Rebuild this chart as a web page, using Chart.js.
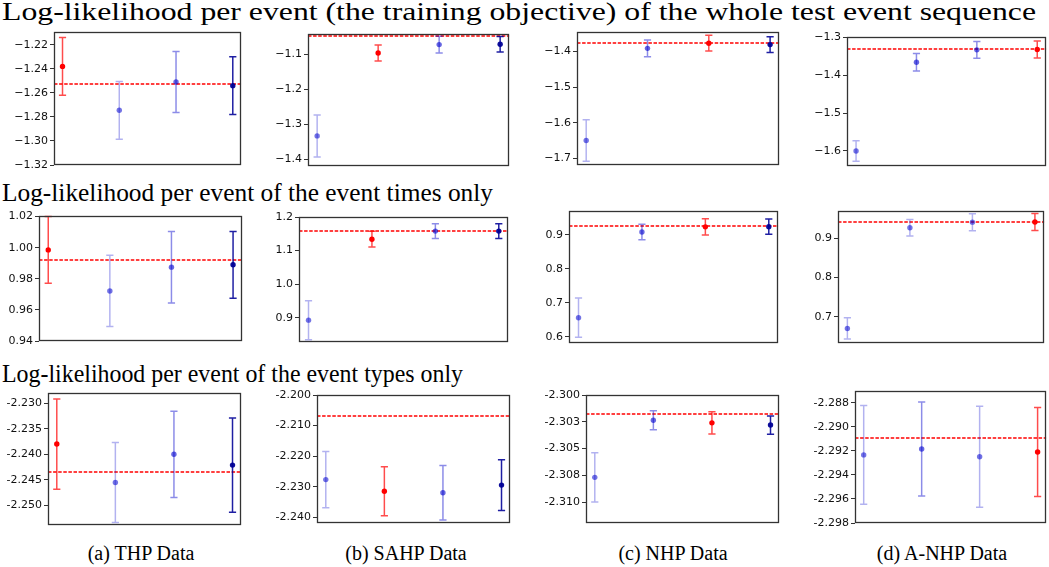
<!DOCTYPE html>
<html><head><meta charset="utf-8">
<script src="https://cdn.jsdelivr.net/npm/chart.js@4.4.1/dist/chart.umd.min.js"></script>
<style>
html,body{margin:0;padding:0;background:#fff;}
#fig{position:relative;width:1049px;height:567px;overflow:hidden;background:#fff;}
canvas.cv{position:absolute;}
.title{position:absolute;left:2px;font-family:"Liberation Serif","DejaVu Serif",serif;color:#000;white-space:nowrap;line-height:1;transform-origin:0 0;}
.cap{position:absolute;font-family:"Liberation Serif","DejaVu Serif",serif;color:#000;white-space:nowrap;line-height:1;transform:translateX(-50%);}
</style></head><body><div id="fig"></div>
<script>
// ---------------- DATA ----------------
const datasetNames = ['(a) THP Data', '(b) SAHP Data', '(c) NHP Data', '(d) A-NHP Data'];
const modelX = [0, 1, 2, 3];
const rowTitles = [
  'Log-likelihood per event (the training objective) of the whole test event sequence',
  'Log-likelihood per event of the event times only',
  'Log-likelihood per event of the event types only'
];

// Row 1: whole sequence
const seqMeans = [
  [-1.238, -1.2745, -1.251, -1.254],
  [-1.334, -1.097, -1.073, -1.072],
  [-1.650, -1.3915, -1.377, -1.381],
  [-1.6005, -1.366, -1.333, -1.332]
];
const seqErrs = [
  [0.024, 0.024, 0.0254, 0.024],
  [0.060, 0.023, 0.024, 0.022],
  [0.058, 0.0235, 0.022, 0.022],
  [0.027, 0.023, 0.022, 0.0225]
];
const seqRef = [-1.2525, -1.0475, -1.3766, -1.331];
const seqTicks = [
  [-1.32, -1.30, -1.28, -1.26, -1.24, -1.22],
  [-1.4, -1.3, -1.2, -1.1],
  [-1.7, -1.6, -1.5, -1.4],
  [-1.6, -1.5, -1.4, -1.3]
];
const seqTickLabels = [
  ['\u22121.32', '\u22121.30', '\u22121.28', '\u22121.26', '\u22121.24', '\u22121.22'],
  ['\u22121.4', '\u22121.3', '\u22121.2', '\u22121.1'],
  ['\u22121.7', '\u22121.6', '\u22121.5', '\u22121.4'],
  ['\u22121.6', '\u22121.5', '\u22121.4', '\u22121.3']
];

// Row 2: event times only
const timeMeans = [
  [0.9986, 0.9722, 0.9875, 0.989],
  [0.893, 1.134, 1.158, 1.158],
  [0.656, 0.909, 0.924, 0.9245],
  [0.670, 0.927, 0.9413, 0.9417]
];
const timeErrs = [
  [0.0214, 0.0229, 0.023, 0.0215],
  [0.058, 0.0235, 0.022, 0.022],
  [0.058, 0.0227, 0.024, 0.0225],
  [0.027, 0.0213, 0.0217, 0.022]
];
const timeRef = [0.9919, 1.1588, 0.9256, 0.9426];
const timeTicks = [
  [0.94, 0.96, 0.98, 1.00, 1.02],
  [0.9, 1.0, 1.1, 1.2],
  [0.6, 0.7, 0.8, 0.9],
  [0.7, 0.8, 0.9]
];
const timeTickLabels = [
  ['0.94', '0.96', '0.98', '1.00', '1.02'],
  ['0.9', '1.0', '1.1', '1.2'],
  ['0.6', '0.7', '0.8', '0.9'],
  ['0.7', '0.8', '0.9']
];

// Row 3: event types only
const typeMeans = [
  [-2.238, -2.2455, -2.240, -2.2421],
  [-2.2277, -2.2315, -2.232, -2.2295],
  [-2.30768, -2.30235, -2.3026, -2.3028],
  [-2.29234, -2.29185, -2.2925, -2.2921]
];
const typeErrs = [
  [0.0088, 0.0078, 0.0084, 0.0092],
  [0.0092, 0.008, 0.0089, 0.0083],
  [0.0023, 0.00088, 0.00104, 0.00085],
  [0.0041, 0.0039, 0.0042, 0.0037]
];
const typeRef = [-2.2434, -2.2069, -2.30176, -2.29093];
const typeTicks = [
  [-2.250, -2.245, -2.240, -2.235, -2.230],
  [-2.240, -2.230, -2.220, -2.210, -2.200],
  [-2.3100, -2.3075, -2.3050, -2.3025, -2.3000],
  [-2.298, -2.296, -2.294, -2.292, -2.290, -2.288]
];
const typeTickLabels = [
  ['-2.250', '-2.245', '-2.240', '-2.235', '-2.230'],
  ['-2.240', '-2.230', '-2.220', '-2.210', '-2.200'],
  ['-2.310', '-2.308', '-2.305', '-2.303', '-2.300'],
  ['-2.298', '-2.296', '-2.294', '-2.292', '-2.290', '-2.288']
];

// ---------------- LAYOUT / STYLE ----------------
const yLimits = [
  [[-1.32, -1.2094], [-1.42, -1.0427], [-1.7187, -1.3456], [-1.64, -1.2991]],
  [[0.94, 1.0204], [0.828, 1.2], [0.5813, 0.9708], [0.6328, 0.9698]],
  [[-2.25378, -2.22805], [-2.2419, -2.2], [-2.31194, -2.3], [-2.298, -2.28703]]
];
// plot boxes: [left, top, right, bottom]
const boxes = [
  [[54, 32, 242, 165], [308, 34, 510, 166], [577, 32, 780, 165], [847, 37, 1047, 166]],
  [[39, 216, 243, 341], [299, 217, 509, 342], [569, 211, 779, 343], [838, 211, 1045, 343]],
  [[48, 393, 242, 525], [317, 395, 511, 523], [586, 395, 780, 523], [855, 391, 1047, 523]]
];
const styleKeys = [
  [['red', 'light', 'mid', 'dark'], ['light', 'red', 'mid', 'dark'], ['light', 'mid', 'red', 'dark'], ['light', 'mid', 'mid', 'red']],
  [['red', 'light', 'mid', 'dark'], ['light', 'red', 'mid', 'dark'], ['light', 'mid', 'red', 'dark'], ['light', 'light', 'light', 'red']],
  [['red', 'light', 'mid', 'dark'], ['light', 'red', 'mid', 'dark'], ['light', 'mid', 'red', 'dark'], ['light', 'mid', 'light', 'red']]
];
const styles = {
  red:   {line: 'rgba(255,0,0,0.7)',  point: 'rgba(255,0,0,1)'},
  light: {line: 'rgba(0,0,205,0.3)',  point: 'rgba(0,0,205,0.55)'},
  mid:   {line: 'rgba(0,0,205,0.45)', point: 'rgba(0,0,205,0.6)'},
  dark:  {line: 'rgba(0,0,150,0.88)', point: 'rgba(0,0,150,0.95)'}
};
const titleBaselines = [20, 201, 382];
const titleSize = 25.4;
const titleWidths = [1034, 491, 461];
const capCenters = [141, 406, 673, 942];
const capBaseline = 560;
const capSize = 20;

// ---------------- DRAW ----------------
const fig = document.getElementById('fig');
const meas = document.createElement('canvas').getContext('2d');

rowTitles.forEach((t, r) => {
  meas.font = titleSize + 'px "Liberation Serif"';
  const w = meas.measureText(t).width;
  const d = document.createElement('div');
  d.className = 'title';
  d.textContent = t;
  d.style.fontSize = titleSize + 'px';
  d.style.top = (titleBaselines[r] - 0.8375 * titleSize) + 'px';
  d.style.transform = 'scaleX(' + (titleWidths[r] / w) + ')';
  fig.appendChild(d);
});
datasetNames.forEach((t, c) => {
  const d = document.createElement('div');
  d.className = 'cap';
  d.textContent = t;
  d.style.fontSize = capSize + 'px';
  d.style.left = capCenters[c] + 'px';
  d.style.top = (capBaseline - 0.8375 * capSize) + 'px';
  fig.appendChild(d);
});

const errPlugin = {
  id: 'errbars',
  beforeDatasetsDraw(chart) {
    const o = chart.options.plugins.errbars;
    const ctx = chart.ctx, xs = chart.scales.x, ys = chart.scales.y, a = chart.chartArea;
    ctx.save();
    ctx.beginPath(); ctx.rect(a.left, a.top - 1, a.right - a.left, a.bottom - a.top + 2); ctx.clip();
    const yr = Math.round(ys.getPixelForValue(o.ref));
    ctx.strokeStyle = 'rgb(255,0,0)';
    ctx.lineWidth = 1.4;
    ctx.setLineDash([3.5, 1.6]);
    ctx.beginPath(); ctx.moveTo(a.left, yr); ctx.lineTo(a.right, yr); ctx.stroke();
    ctx.setLineDash([]);
    o.means.forEach((m, i) => {
      const px = xs.getPixelForValue(modelX[i]);
      const t = ys.getPixelForValue(m + o.errs[i]);
      const b = ys.getPixelForValue(m - o.errs[i]);
      ctx.strokeStyle = o.colors[i];
      ctx.lineWidth = 1.5;
      ctx.beginPath();
      ctx.moveTo(px, t); ctx.lineTo(px, b);
      ctx.moveTo(px - 3.6, t); ctx.lineTo(px + 3.6, t);
      ctx.moveTo(px - 3.6, b); ctx.lineTo(px + 3.6, b);
      ctx.stroke();
    });
    ctx.restore();
  },
  afterDraw(chart) {
    const ctx = chart.ctx, a = chart.chartArea;
    ctx.save();
    ctx.strokeStyle = '#333';
    ctx.lineWidth = 1.3;
    ctx.strokeRect(Math.round(a.left) + 0.5, Math.round(a.top) + 0.5,
      Math.round(a.right - a.left) - 1, Math.round(a.bottom - a.top) - 1);
    ctx.restore();
  }
};

const YW = 58, PAD = 10;
const rows = [
  [seqMeans, seqErrs, seqRef, seqTicks, seqTickLabels],
  [timeMeans, timeErrs, timeRef, timeTicks, timeTickLabels],
  [typeMeans, typeErrs, typeRef, typeTicks, typeTickLabels]
];

rows.forEach((row, r) => {
  const [means, errs, refs, ticks, labels] = row;
  for (let c = 0; c < 4; c++) {
    const [L, T, R, B] = boxes[r][c];
    const cv = document.createElement('canvas');
    cv.className = 'cv';
    const W = (R - L) + YW + 2, H = (B - T) + 2 * PAD;
    cv.width = W; cv.height = H;
    cv.style.width = W + 'px'; cv.style.height = H + 'px';
    cv.style.left = (L - YW) + 'px';
    cv.style.top = (T - PAD) + 'px';
    fig.appendChild(cv);
    const keys = styleKeys[r][c];
    const tv = ticks[c], tl = labels[c];
    new Chart(cv, {
      type: 'scatter',
      data: {
        datasets: [{
          data: means[c].map((m, i) => ({x: modelX[i], y: m})),
          pointRadius: 2.7,
          pointHoverRadius: 2.7,
          pointBorderWidth: 0,
          pointBackgroundColor: keys.map(k => styles[k].point),
          pointBorderColor: keys.map(k => styles[k].point)
        }]
      },
      options: {
        responsive: false,
        animation: false,
        devicePixelRatio: 1,
        events: [],
        layout: {padding: {left: 0, right: 2, top: PAD, bottom: PAD}},
        plugins: {
          legend: {display: false},
          tooltip: {enabled: false},
          errbars: {
            means: means[c], errs: errs[c], ref: refs[c],
            colors: keys.map(k => styles[k].line)
          }
        },
        scales: {
          x: {type: 'linear', display: false, min: -0.15, max: 3.15},
          y: {
            type: 'linear',
            min: yLimits[r][c][0], max: yLimits[r][c][1],
            afterFit(s) { s.width = YW; },
            afterBuildTicks(s) { s.ticks = tv.map(v => ({value: v})); },
            ticks: {
              autoSkip: false,
              padding: 2,
              color: '#111',
              font: {family: 'DejaVu Sans', size: 11},
              callback: (v, i) => tl[i]
            },
            grid: {display: true, drawOnChartArea: false, drawTicks: true, tickLength: 4, color: '#333', lineWidth: 1},
            border: {display: false}
          }
        }
      },
      plugins: [errPlugin]
    });
  }
});
</script></body></html>
